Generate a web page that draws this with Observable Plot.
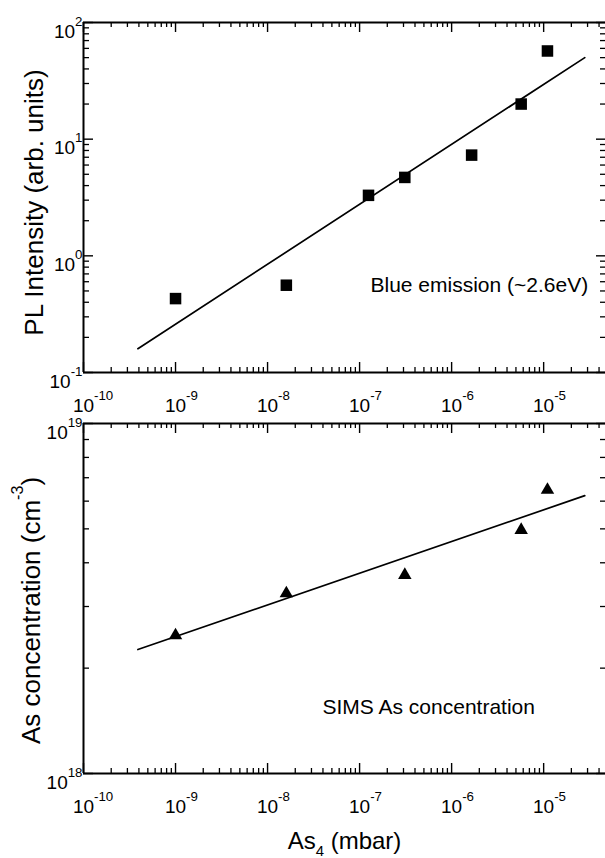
<!DOCTYPE html>
<html><head><meta charset="utf-8">
<script src="https://cdn.jsdelivr.net/npm/d3@7"></script>
<script src="https://cdn.jsdelivr.net/npm/@observablehq/plot@0.6"></script>
<style>
html,body{margin:0;padding:0;background:#fff;}
#chart{width:605px;}
#chart svg{display:block;}
</style></head><body><div id="chart"></div>
<script>
// ---- data ----
const bluePressure = [1.0e-9, 1.6e-8, 1.25e-7, 3.1e-7, 1.65e-6, 5.7e-6, 1.1e-5];
const blueIntensity = [0.43, 0.56, 3.3, 4.7, 7.3, 20, 57];
const blueFitPressure = [3.9e-10, 2.8e-5];
const blueFitIntensity = [0.16, 50];

const simsPressure = [1.0e-9, 1.6e-8, 3.1e-7, 5.7e-6, 1.1e-5];
const simsConc = [2.48e18, 3.27e18, 3.69e18, 4.96e18, 6.46e18];
const simsFitPressure = [3.9e-10, 2.8e-5];
const simsFitConc = [2.26e18, 6.22e18];

// ---- ticks ----
const xTicks = [1e-10, 1e-9, 1e-8, 1e-7, 1e-6, 1e-5];
const xTickLabels = ["10^{-10}", "10^{-9}", "10^{-8}", "10^{-7}", "10^{-6}", "10^{-5}"];
const yTicksTop = [0.1, 1, 10, 100];
const yTickLabelsTop = ["10^{-1}", "10^{0}", "10^{1}", "10^{2}"];
const yTicksBottom = [1e18, 1e19];
const yTickLabelsBottom = ["10^{18}", "10^{19}"];

const xDomain = [1e-10, 4.7e-5];
const yDomainTop = [0.1, 100];
const yDomainBottom = [1e18, 1e19];

const FONT = '"Liberation Sans", Arial, Helvetica, sans-serif';
const W = 605, ML = 83, MR = 0;
const innerW = W - ML - MR;

function minors(decades, lo, hi) {
  const out = [];
  for (const d of decades) for (let m = 2; m <= 9; m++) {
    const v = m * d;
    if (v > lo && v < hi) out.push(v);
  }
  return out;
}
const xMinor = minors(xTicks, xDomain[0], xDomain[1]);
const yMinorTop = minors([0.1, 1, 10], yDomainTop[0], yDomainTop[1]);
const yMinorBottom = minors([1e18], yDomainBottom[0], yDomainBottom[1]);

const rows = (xs, ys) => xs.map((x, i) => ({x, y: ys[i]}));

function frameAndTicks(yDomain, yMajor, yMajorLabels, yMinor, innerH) {
  return [
    Plot.ruleX([xDomain[0]], {strokeWidth: 2}),
    Plot.ruleY([yDomain[0]], {strokeWidth: 2}),
    Plot.ruleY([yDomain[1]], {strokeWidth: 2}),
    // x ticks, bottom and top, pointing inward
    Plot.tickX(xTicks, {x: d => d, insetTop: innerH - 10, strokeWidth: 1.4}),
    Plot.tickX(xMinor, {x: d => d, insetTop: innerH - 5, strokeWidth: 1.3}),
    Plot.tickX(xTicks, {x: d => d, insetBottom: innerH - 10, strokeWidth: 1.4}),
    Plot.tickX(xMinor, {x: d => d, insetBottom: innerH - 5, strokeWidth: 1.3}),
    // y ticks, left and right, pointing inward
    Plot.tickY(yMajor, {y: d => d, insetRight: innerW - 10, strokeWidth: 1.4}),
    Plot.tickY(yMinor, {y: d => d, insetRight: innerW - 6, strokeWidth: 1.3}),
    Plot.tickY(yMajor, {y: d => d, insetLeft: innerW - 9, strokeWidth: 1.4}),
    Plot.tickY(yMinor, {y: d => d, insetLeft: innerW - 5, strokeWidth: 1.3}),
    // tick labels
    Plot.text(xTicks, {x: d => d, text: xTickLabels, frameAnchor: "bottom", lineAnchor: "bottom",
      textAnchor: "start", dx: -10.6, dy: 39, fontSize: 19}),
    Plot.text(yMajor, {y: d => d, text: yMajorLabels,
      frameAnchor: "left", textAnchor: "end", lineAnchor: "bottom", dx: -1, dy: 15, fontSize: 19})
  ];
}

// ---- top panel ----
const H1 = 410, MT1 = 22, MB1 = 38, inner1 = H1 - MT1 - MB1;
const topPlot = Plot.plot({
  width: W, height: H1, marginTop: MT1, marginBottom: MB1, marginLeft: ML, marginRight: MR,
  style: {fontFamily: FONT, background: "white", color: "black", overflow: "visible"},
  x: {type: "log", domain: xDomain, axis: null},
  y: {type: "log", domain: yDomainTop, axis: null},
  marks: [
    ...frameAndTicks(yDomainTop, yTicksTop, yTickLabelsTop, yMinorTop, inner1),
    Plot.line(rows(blueFitPressure, blueFitIntensity), {x: "x", y: "y", stroke: "black", strokeWidth: 1.7}),
    Plot.dot(rows(bluePressure, blueIntensity), {x: "x", y: "y", symbol: "square", r: 6.5, fill: "black", stroke: null}),
    Plot.text(["PL Intensity (arb. units)"], {text: d => d, frameAnchor: "left", rotate: -90,
      lineAnchor: "bottom", textAnchor: "middle", dx: -41, dy: 5, fontSize: 26}),
    Plot.text(["Blue emission (~2.6eV)"], {text: d => d, frameAnchor: "top-left",
      textAnchor: "start", lineAnchor: "bottom", dx: 287, dy: 269, fontSize: 21})
  ]
});

// ---- bottom panel ----
const H2 = 448, MT2 = 13, MB2 = 85, inner2 = H2 - MT2 - MB2;
const bottomPlot = Plot.plot({
  width: W, height: H2, marginTop: MT2, marginBottom: MB2, marginLeft: ML, marginRight: MR,
  style: {fontFamily: FONT, background: "white", color: "black", overflow: "visible"},
  x: {type: "log", domain: xDomain, axis: null},
  y: {type: "log", domain: yDomainBottom, axis: null},
  marks: [
    ...frameAndTicks(yDomainBottom, yTicksBottom, yTickLabelsBottom, yMinorBottom, inner2),
    Plot.line(rows(simsFitPressure, simsFitConc), {x: "x", y: "y", stroke: "black", strokeWidth: 1.7}),
    Plot.dot(rows(simsPressure, simsConc), {x: "x", y: "y", symbol: "triangle", r: 5, fill: "black", stroke: null}),
    Plot.text(["As concentration (cm^{-3})"], {text: d => d, frameAnchor: "left", rotate: -90,
      lineAnchor: "bottom", textAnchor: "middle", dx: -44, dy: 12, fontSize: 26}),
    Plot.text(["SIMS As concentration"], {text: d => d, frameAnchor: "top-left",
      textAnchor: "start", lineAnchor: "bottom", dx: 239, dy: 290, fontSize: 21}),
    Plot.text(["As_{4} (mbar)"], {text: d => d, frameAnchor: "bottom",
      textAnchor: "middle", lineAnchor: "bottom", dy: 75, fontSize: 24})
  ]
});

const chart = document.getElementById("chart");
chart.appendChild(topPlot);
chart.appendChild(bottomPlot);

// superscripts / subscripts as real tspans
function applyScripts(svg) {
  svg.querySelectorAll("text").forEach(el => {
    const s = el.textContent;
    if (!/[\^_]\{/.test(s)) return;
    const fs = parseFloat(getComputedStyle(el).fontSize) || 19;
    const ratio = fs < 22 ? 0.7 : 0.62;
    while (el.firstChild) el.removeChild(el.firstChild);
    const re = /([\^_])\{([^}]*)\}/g;
    let last = 0, m, pending = 0;
    const add = (txt, dy, size) => {
      const t = document.createElementNS("http://www.w3.org/2000/svg", "tspan");
      t.textContent = txt;
      if (dy) t.setAttribute("dy", dy.toFixed(2));
      if (size) t.setAttribute("font-size", size.toFixed(2));
      el.appendChild(t);
    };
    while ((m = re.exec(s))) {
      if (m.index > last) { add(s.slice(last, m.index), pending); pending = 0; }
      const d = m[1] === "^" ? -0.62 * fs : 0.3 * fs;
      add(m[2], pending + d, ratio * fs);
      pending = -d;
      last = re.lastIndex;
    }
    if (last < s.length) add(s.slice(last), pending);
  });
}
applyScripts(topPlot);
applyScripts(bottomPlot);
</script>
</body></html>
